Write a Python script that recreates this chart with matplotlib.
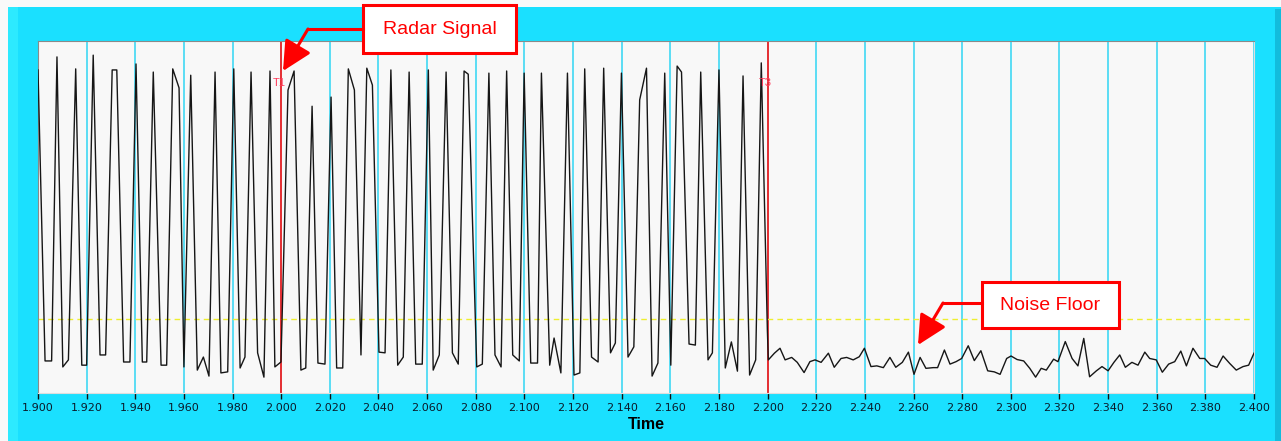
import numpy as np
import matplotlib
matplotlib.use("Agg")
import matplotlib.pyplot as plt
from matplotlib.patches import Rectangle
from matplotlib.lines import Line2D

# vertices of the radar trace (time in s, level 0..100, axis has no y labels)
radar_t = [1.9000, 1.9029, 1.9056, 1.9078, 1.9102, 1.9125, 1.9155, 1.9180, 1.9200, 1.9227,
           1.9255, 1.9278, 1.9305, 1.9324, 1.9352, 1.9378, 1.9403, 1.9429, 1.9447, 1.9474,
           1.9506, 1.9529, 1.9554, 1.9580, 1.9600, 1.9628, 1.9655, 1.9680, 1.9703, 1.9728,
           1.9752, 1.9780, 1.9805, 1.9831, 1.9851, 1.9876, 1.9903, 1.9929, 1.9954, 1.9974,
           1.9999, 2.0028, 2.0053, 2.0081, 2.0101, 2.0127, 2.0151, 2.0180, 2.0205, 2.0228,
           2.0253, 2.0276, 2.0301, 2.0328, 2.0352, 2.0375, 2.0402, 2.0427, 2.0451, 2.0479,
           2.0502, 2.0526, 2.0553, 2.0580, 2.0605, 2.0625, 2.0650, 2.0678, 2.0704, 2.0728,
           2.0752, 2.0769, 2.0804, 2.0827, 2.0854, 2.0879, 2.0904, 2.0927, 2.0952, 2.0979,
           2.0999, 2.1026, 2.1054, 2.1070, 2.1104, 2.1122, 2.1150, 2.1177, 2.1204, 2.1228,
           2.1248, 2.1276, 2.1303, 2.1326, 2.1354, 2.1374, 2.1399, 2.1426, 2.1450, 2.1474,
           2.1502, 2.1525, 2.1549, 2.1577, 2.1602, 2.1628, 2.1646, 2.1677, 2.1703, 2.1725,
           2.1755, 2.1773, 2.1800, 2.1826, 2.1851, 2.1876, 2.1899, 2.1926, 2.1951, 2.1974,
           2.1999]
radar_v = [91.7, 9.1, 9.1, 95.4, 7.4, 9.4, 92.0, 7.9, 7.9, 95.9,
           10.8, 10.8, 91.7, 91.7, 8.8, 8.8, 93.4, 8.8, 8.8, 91.1,
           7.9, 7.9, 92.0, 86.6, 7.4, 90.2, 6.5, 10.2, 4.8, 91.1,
           5.7, 6.0, 92.0, 7.1, 10.2, 91.1, 11.4, 4.5, 91.4, 7.4,
           8.8, 86.0, 91.4, 6.5, 7.1, 81.4, 8.5, 8.2, 84.0, 7.1,
           7.1, 92.0, 86.0, 10.8, 92.2, 87.4, 11.6, 11.4, 91.7, 7.9,
           10.2, 91.1, 8.2, 8.2, 91.7, 6.5, 10.8, 91.1, 11.4, 8.2,
           91.4, 90.5, 7.4, 8.2, 90.8, 10.8, 7.4, 91.4, 10.8, 9.1,
           90.8, 8.5, 8.5, 90.8, 7.9, 15.6, 5.7, 90.8, 5.1, 5.7,
           92.0, 10.2, 8.8, 92.2, 11.4, 14.2, 90.8, 10.2, 13.1, 83.2,
           92.2, 4.8, 8.5, 90.8, 7.9, 92.8, 91.1, 13.9, 13.6, 91.1,
           9.4, 11.4, 91.7, 7.1, 14.5, 6.2, 90.0, 5.1, 9.4, 93.7,
           17.9]

# noise floor after the pulse train
noise_t = [2.2003, 2.2028, 2.2051, 2.2072, 2.2099, 2.2122, 2.2150, 2.2174, 2.2195, 2.2220,
           2.2250, 2.2274, 2.2302, 2.2325, 2.2352, 2.2377, 2.2398, 2.2425, 2.2449, 2.2476,
           2.2503, 2.2527, 2.2554, 2.2579, 2.2602, 2.2627, 2.2651, 2.2681, 2.2699, 2.2727,
           2.2750, 2.2775, 2.2798, 2.2825, 2.2850, 2.2877, 2.2905, 2.2932, 2.2956, 2.2983,
           2.3001, 2.3026, 2.3053, 2.3078, 2.3102, 2.3125, 2.3146, 2.3176, 2.3194, 2.3224,
           2.3252, 2.3276, 2.3300, 2.3324, 2.3352, 2.3375, 2.3400, 2.3424, 2.3448, 2.3471,
           2.3498, 2.3523, 2.3551, 2.3571, 2.3598, 2.3623, 2.3649, 2.3674, 2.3699, 2.3722,
           2.3749, 2.3777, 2.3797, 2.3822, 2.3848, 2.3873, 2.3900, 2.3927, 2.3955, 2.3978,
           2.4000]
noise_v = [9.4, 11.3, 12.7, 9.4, 10.1, 8.7, 5.8, 8.9, 9.4, 8.7,
           11.3, 7.3, 9.8, 10.1, 9.4, 10.3, 12.7, 7.5, 7.7, 7.2,
           10.1, 7.3, 8.7, 11.6, 5.3, 10.1, 7.0, 7.2, 7.2, 12.2,
           8.2, 8.9, 9.8, 13.4, 9.2, 12.0, 6.3, 6.0, 5.3, 9.8,
           10.5, 9.5, 9.1, 7.0, 4.5, 7.0, 6.5, 9.6, 8.9, 14.6,
           9.8, 7.7, 15.5, 4.6, 6.3, 7.5, 6.3, 8.7, 10.8, 7.3,
           8.7, 7.9, 11.6, 9.8, 9.4, 5.9, 8.2, 8.9, 11.9, 7.7,
           12.7, 9.8, 9.8, 7.9, 7.3, 10.5, 8.4, 6.5, 7.5, 7.9,
           11.3]

threshold = 21.0
marker_times = [2.000, 2.200]
marker_labels = ["T1", "T3"]
tick_values = [1.90, 1.92, 1.94, 1.96, 1.98, 2.00, 2.02, 2.04, 2.06, 2.08, 2.10, 2.12, 2.14,
               2.16, 2.18, 2.20, 2.22, 2.24, 2.26, 2.28, 2.30, 2.32, 2.34, 2.36, 2.38, 2.40]
tick_labels = ["%.3f" % v for v in tick_values]

W, H = 1281, 441
CYAN = "#1ae0ff"
GRID = "#40d8f4"


def fx(px):
    return px / W


def fy(py):
    # pixel rows counted from the top
    return 1 - py / H


fig = plt.figure(figsize=(W / 100, H / 100), dpi=100, facecolor="#f9f9f9")

# instrument-style cyan frame
fig.add_artist(Rectangle((fx(8), 0), fx(W - 8), fy(7), transform=fig.transFigure,
                         facecolor=CYAN, edgecolor="none", zorder=-5))
fig.add_artist(Rectangle((fx(8), 0), fx(10), fy(7), transform=fig.transFigure,
                         facecolor="#2deaff", edgecolor="none", zorder=-4))
fig.add_artist(Rectangle((fx(1275), 0), fx(6), fy(9), transform=fig.transFigure,
                         facecolor="#12bcdc", edgecolor="none", zorder=-4))

ax = fig.add_axes([fx(38), 48 / H, fx(1216), 352.3 / H])
ax.set_facecolor("#f8f8f8")

ax.set_xlim(1.9, 2.4)
ax.set_ylim(0, 100)
ax.set_xticks(tick_values)
ax.set_xticklabels(tick_labels)
ax.set_yticks([])
ax.grid(axis="x", color=GRID, lw=1.2, zorder=1)
ax.set_axisbelow(True)

for t, lab in zip(marker_times, marker_labels):
    ax.axvline(t, color="#ff1010", lw=1.2, zorder=2)
    ax.annotate(lab, xy=(t, 88), xytext=(-2, 0), textcoords="offset pixels",
                ha="center", va="center", color="#ff3a5a", fontsize=8,
                family="Liberation Sans", zorder=4)

ax.axhline(threshold, color="#eeee30", lw=1.0, ls=(0, (4, 3)), zorder=2)

t_all = np.concatenate([radar_t, noise_t])
v_all = np.concatenate([radar_v, noise_v])
ax.plot(t_all, v_all, color="#161616", lw=1.0, zorder=3)

for side in ["top", "left"]:
    ax.spines[side].set_color("#8a8a8a")
for side in ["bottom", "right"]:
    ax.spines[side].set_color("#dedede")

ax.tick_params(axis="x", length=4, width=1, color="#101010", labelsize=8,
               labelcolor="#0a1a2a", pad=3)
ax.set_xlabel("Time", fontsize=11.5, fontweight="bold", family="Liberation Sans",
              labelpad=3, color="black")


# callout boxes
def callout(box, text, bend, tip):
    x0, y0, x1, y1 = box
    fig.add_artist(Rectangle((fx(x0), fy(y1)), fx(x1 - x0), (y1 - y0) / H,
                             transform=fig.transFigure, facecolor="white",
                             edgecolor="#ff0000", lw=2.2, zorder=6))
    fig.text(fx((x0 + x1) / 2), fy((y0 + y1) / 2), text, ha="center", va="center",
             color="#ff0000", fontsize=14, family="Liberation Sans", zorder=7)
    fig.add_artist(Line2D([fx(x0), fx(bend[0])], [fy(bend[1]), fy(bend[1])],
                          transform=fig.transFigure, color="#ff0000", lw=2.2, zorder=6))
    ax.annotate("", xy=(tip[0], H - tip[1]), xycoords="figure pixels",
                xytext=(bend[0], H - bend[1]), textcoords="figure pixels",
                arrowprops=dict(arrowstyle="-|>,head_length=1.0,head_width=0.5",
                                color="#ff0000", lw=2.2, shrinkA=0, shrinkB=0,
                                mutation_scale=18),
                annotation_clip=False, zorder=6)


callout((363, 5, 516, 53), "Radar Signal", (308, 29), (283, 71))
callout((982, 282, 1119, 328), "Noise Floor", (943, 303), (918, 345))

fig.savefig("out.png", dpi=100, facecolor=fig.get_facecolor())
